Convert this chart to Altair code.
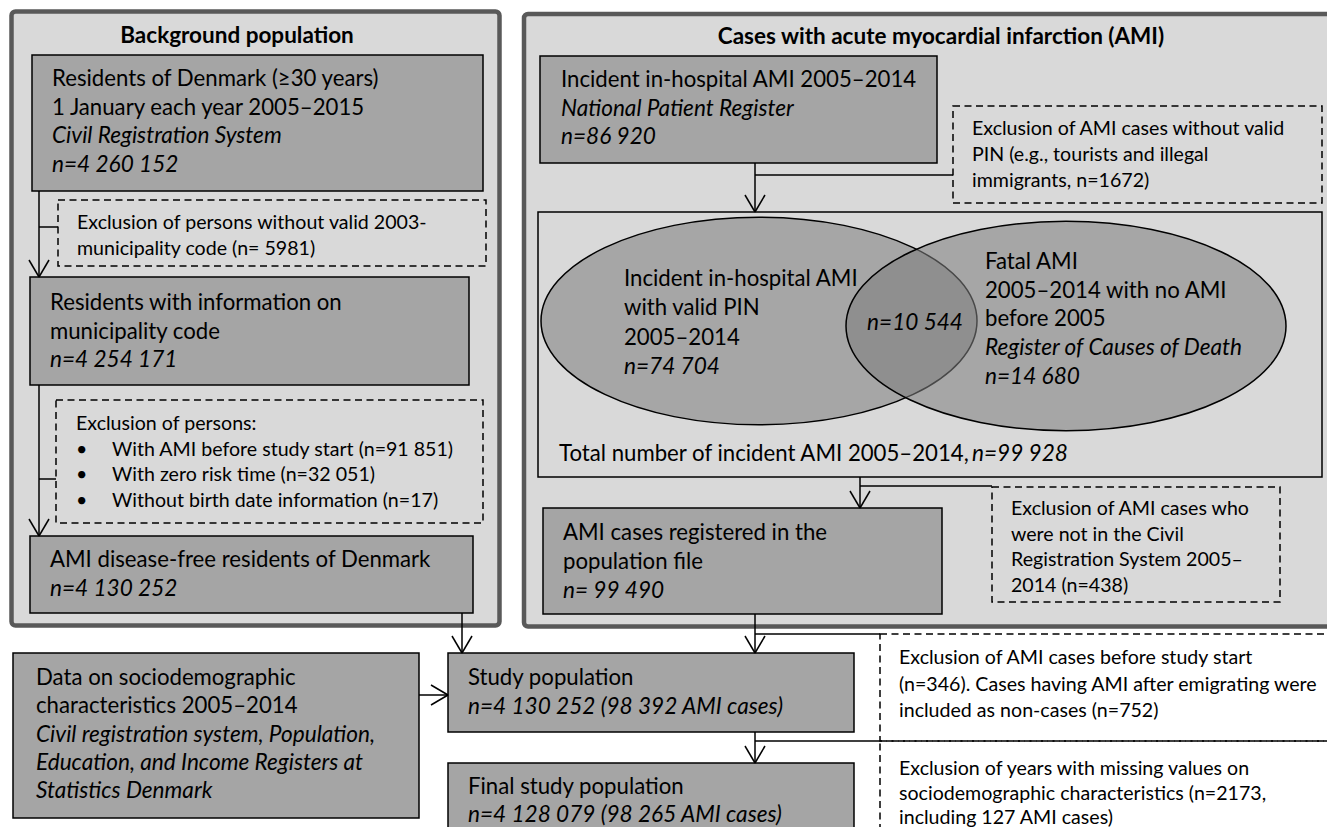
import altair as alt
import pandas as pd

# ------------------------------------------------------------------ content
title_left = "Background population"
title_right = "Cases with acute myocardial infarction (AMI)"

b1_lines = ["Residents of Denmark (≥30 years)", "1 January each year 2005–2015",
            "Civil Registration System", "n=4 260 152"]
b1_italic = [False, False, True, True]
x1_lines = ["Exclusion of persons without valid 2003-", "municipality code (n= 5981)"]
b2_lines = ["Residents with information on", "municipality code", "n=4 254 171"]
b2_italic = [False, False, True]
x2_head = ["Exclusion of persons:"]
x2_bullets = ["With AMI before study start (n=91 851)", "With zero risk time (n=32 051)",
              "Without birth date information (n=17)"]
b3_lines = ["AMI disease-free residents of Denmark", "n=4 130 252"]
b3_italic = [False, True]
r1_lines = ["Incident in-hospital AMI 2005–2014", "National Patient Register", "n=86 920"]
r1_italic = [False, True, True]
x3_lines = ["Exclusion of AMI cases without valid", "PIN (e.g., tourists and illegal",
            "immigrants, n=1672)"]
vl_lines = ["Incident in-hospital AMI", "with valid PIN", "2005–2014", "n=74 704"]
vl_italic = [False, False, False, True]
vr_lines = ["Fatal AMI", "2005–2014 with no AMI", "before 2005",
            "Register of Causes of Death", "n=14 680"]
vr_italic = [False, False, False, True, True]
v_overlap = ["n=10 544"]
total_text = ["Total number of incident AMI 2005–2014,"]
total_n = ["n=99 928"]
x4_lines = ["Exclusion of AMI cases who", "were not in the Civil",
            "Registration System 2005–", "2014 (n=438)"]
r3_lines = ["AMI cases registered in the", "population file", "n= 99 490"]
r3_italic = [False, False, True]
d_lines = ["Data on sociodemographic", "characteristics 2005–2014",
           "Civil registration system, Population,", "Education, and Income Registers at",
           "Statistics Denmark"]
d_italic = [False, False, True, True, True]
s_lines = ["Study population", "n=4 130 252 (98 392 AMI cases)"]
s_italic = [False, True]
x5_lines = ["Exclusion of AMI cases before study start",
            "(n=346). Cases having AMI after emigrating were",
            "included as non-cases (n=752)"]
f_lines = ["Final study population", "n=4 128 079 (98 265 AMI cases)"]
f_italic = [False, True]
x6_lines = ["Exclusion of years with missing values on",
            "sociodemographic characteristics (n=2173,", "including 127 AMI cases)"]

# ------------------------------------------------------------------ layout (page pixels)
FONT = "Lato"
MAIN = 22.2
ITAL = 22.6
SMALL = 19.6
TITLE = 22.5
PANEL_FILL = "#d9d9d9"
PANEL_STROKE = "#595959"
BOX_FILL = "#a5a5a5"

panels = [(11.5, 499.5, 11.5, 625.5), (524, 1345, 14, 626.5)]
solid_boxes = [(32, 483, 55, 191), (30, 469, 277, 385), (30, 473, 536, 613),
               (540, 937, 56, 163), (543, 942, 508, 614), (13, 419, 653, 818),
               (448, 854, 653, 732), (448, 854, 763, 850)]
container = [(538, 1322, 212, 477)]
dashed = [(58, 486, 200, 266), (56, 483, 400, 523), (953, 1322, 106, 203),
          (992, 1280, 487, 602), (880, 1345, 634, 741), (880, 1345, 741, 850)]
ellipses = [(759, 321, 436), (1066, 326, 440)]
ELL_RATIO = 0.476
connectors = [
    (39, 191, 39, 277), (39, 227, 58, 227),
    (39, 385, 39, 536), (39, 479, 56, 479),
    (462, 613, 462, 653),
    (755, 163, 755, 212), (755, 175, 953, 175),
    (860, 477, 860, 508), (860, 486, 992, 486),
    (755, 614, 755, 653), (755, 634, 880, 634),
    (755, 732, 755, 763), (755, 741, 880, 741),
    (419, 695, 448, 695),
]
arrow_tips = [(39, 277, "down"), (39, 536, "down"), (462, 653, "down"),
              (755, 212, "down"), (860, 508, "down"), (755, 653, "down"),
              (755, 763, "down"), (448, 695, "right")]
AH_HALF, AH_LEN = 10, 17

# text blocks: lines, italic flags, x, first-line y, line step, size
blocks = [
    (b1_lines, b1_italic, 52, 79, 28.7, MAIN),
    (x1_lines, None, 77, 223, 25.5, SMALL),
    (b2_lines, b2_italic, 50, 303, 28.7, MAIN),
    (x2_head, None, 76, 424, 25.3, SMALL),
    (x2_bullets, None, 112, 449.5, 25.5, SMALL),
    (["•"] * 3, None, 76, 449.5, 25.5, SMALL),
    (b3_lines, b3_italic, 50, 560, 29, MAIN),
    (r1_lines, r1_italic, 561, 80, 28.5, MAIN),
    (x3_lines, None, 972, 129, 26, SMALL),
    (vl_lines, vl_italic, 624, 279, 29.3, MAIN),
    (vr_lines, vr_italic, 985, 262, 28.7, MAIN),
    (total_text, None, 559, 454, 0, MAIN),
    (total_n, [True], 972, 454, 0, MAIN),
    (x4_lines, None, 1011, 509, 25.7, SMALL),
    (r3_lines, r3_italic, 563, 533, 29, MAIN),
    (d_lines, d_italic, 36, 678, 28.3, MAIN),
    (s_lines, s_italic, 468, 678, 29, MAIN),
    (x5_lines, None, 899, 658, 26.5, SMALL),
    (f_lines, f_italic, 468, 787, 27.5, MAIN),
    (x6_lines, None, 899, 769, 24.5, SMALL),
]
centered = [(title_left, 237, 36, "bold", "normal"), (title_right, 941, 37, "bold", "normal"),
            (v_overlap[0], 915, 323, "normal", "italic")]

# ------------------------------------------------------------------ tables
def rect_df(rows):
    return pd.DataFrame(rows, columns=["x1", "x2", "y1", "y2"])

text_rows = []
for lines, ital, x, y0, dy, size in blocks:
    for i, t in enumerate(lines):
        it = bool(ital[i]) if ital else False
        text_rows.append({"text": t, "x": x, "y": y0 + i * dy,
                          "size": ITAL if (it and size == MAIN) else size, "italic": it})
text_df = pd.DataFrame(text_rows)
center_df = pd.DataFrame(centered, columns=["text", "x", "y", "weight", "style"])

line_rows = [dict(x1=a, y1=b, x2=c, y2=d) for a, b, c, d in connectors]
for x, y, d in arrow_tips:
    if d == "down":
        line_rows += [dict(x1=x - AH_HALF, y1=y - AH_LEN, x2=x, y2=y),
                      dict(x1=x + AH_HALF, y1=y - AH_LEN, x2=x, y2=y)]
    else:
        line_rows += [dict(x1=x - AH_LEN, y1=y - AH_HALF, x2=x, y2=y),
                      dict(x1=x - AH_LEN, y1=y + AH_HALF, x2=x, y2=y)]
line_df = pd.DataFrame(line_rows)

ell_df = pd.DataFrame([{"x": x, "y": y, "size": w * w} for x, y, w in ellipses])
k = 0.5523
r = ELL_RATIO
ky = k * r
ELL_PATH = (f"M -1 0 C -1 {-ky:.4f} {-k} {-r} 0 {-r} C {k} {-r} 1 {-ky:.4f} 1 0 "
            f"C 1 {ky:.4f} {k} {r} 0 {r} C {-k} {r} -1 {ky:.4f} -1 0 Z")

# ------------------------------------------------------------------ scales
X0, Y0, W, H = 8, 8, 1319, 819
xs = alt.Scale(domain=[X0, X0 + W], nice=False, zero=False)
ys = alt.Scale(domain=[Y0, Y0 + H], nice=False, zero=False, reverse=True)


def rect_layer(df, **mark):
    return alt.Chart(df).mark_rect(**mark).encode(
        x=alt.X("x1:Q", scale=xs, axis=None), x2="x2:Q",
        y=alt.Y("y1:Q", scale=ys, axis=None), y2="y2:Q")


panel_layer = rect_layer(rect_df(panels), fill=PANEL_FILL, stroke=PANEL_STROKE,
                         strokeWidth=4.5, cornerRadius=4)
container_layer = rect_layer(rect_df(container), fill=PANEL_FILL, stroke="black", strokeWidth=1.5)
box_layer = rect_layer(rect_df(solid_boxes), fill=BOX_FILL, stroke="black", strokeWidth=1.5)
dash_layer = rect_layer(rect_df(dashed), fillOpacity=0, fill="white", stroke="black",
                        strokeWidth=1.5, strokeDash=[7, 4.5])

ell_layer = alt.Chart(ell_df).mark_point(
    shape=ELL_PATH, filled=True, fill="#7f7f7f", fillOpacity=0.57, opacity=1,
    stroke="black", strokeWidth=1.5, strokeOpacity=1
).encode(x=alt.X("x:Q", scale=xs, axis=None), y=alt.Y("y:Q", scale=ys, axis=None),
         size=alt.Size("size:Q", scale=None, legend=None))

line_layer = alt.Chart(line_df).mark_rule(color="black", strokeWidth=1.5).encode(
    x=alt.X("x1:Q", scale=xs, axis=None), x2="x2:Q",
    y=alt.Y("y1:Q", scale=ys, axis=None), y2="y2:Q")


def text_layer(df, style, align="left", weight="normal"):
    return alt.Chart(df).mark_text(
        align=align, baseline="middle", font=FONT, fontStyle=style,
        fontWeight=weight, color="black"
    ).encode(x=alt.X("x:Q", scale=xs, axis=None), y=alt.Y("y:Q", scale=ys, axis=None),
             text="text:N", size=alt.Size("size:Q", scale=None, legend=None))


normal_text = text_layer(text_df[~text_df["italic"]], "normal")
italic_text = text_layer(text_df[text_df["italic"]], "italic")
title_df = center_df[center_df["weight"] == "bold"].assign(size=TITLE)
mid_df = center_df[center_df["weight"] != "bold"].assign(size=ITAL)
title_text = text_layer(title_df, "normal", align="center", weight="bold")
mid_text = text_layer(mid_df, "italic", align="center")

chart = alt.layer(
    panel_layer, container_layer, box_layer, dash_layer, ell_layer, line_layer,
    normal_text, italic_text, title_text, mid_text
).properties(
    width=W, height=H, autosize=alt.AutoSizeParams(type="none"), padding=0,
    background="white"
).configure_view(stroke=None)

chart.save("out.html", embed_options={"renderer": "svg", "actions": False})
